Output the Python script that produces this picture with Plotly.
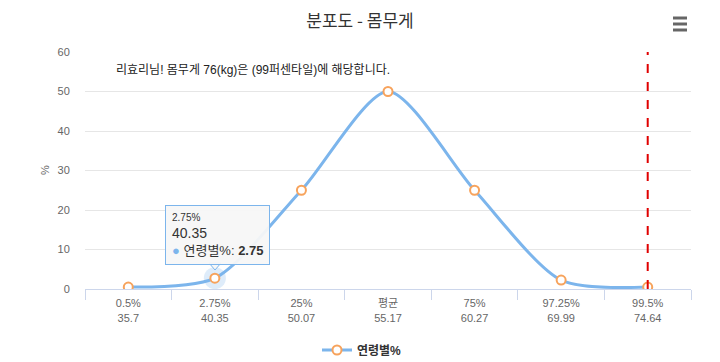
import plotly.graph_objects as go

percentiles = ["0.5%", "2.75%", "25%", "평균", "75%", "97.25%", "99.5%"]
weights = ["35.7", "40.35", "50.07", "55.17", "60.27", "69.99", "74.64"]
values = [0.5, 2.75, 25, 50, 25, 2.25, 0.5]
series_name = "연령별%"
user_category = "99.5%"
hover_index = 1
note_text = "리효리님! 몸무게 76(kg)은 (99퍼센타일)에 해당합니다."
title_text = "분포도 - 몸무게"
y_title = "%"

FONT = "Liberation Sans, Arial, Noto Sans CJK KR, sans-serif"
ticktext = [f"{p}<br>{w}" for p, w in zip(percentiles, weights)]

# page has an 8px body margin; figure is sized to fill the rest of the window
OFF = 8
W, H = 720 - OFF, 362 - OFF
# plot area in page pixels: x 85..691, y 52..289
PL, PR, PT, PB = 85, 691, 52, 289
L, R, T, B = PL - OFF, W - (PR - OFF), PT - OFF, H - (PB - OFF)
PW, PH = PR - PL, PB - PT


def px(x):
    return (x - PL) / PW


def py(y):
    return (PB - y) / PH


fig = go.Figure()
# hover halo
fig.add_trace(go.Scatter(
    x=[percentiles[hover_index]], y=[values[hover_index]], mode="markers",
    marker=dict(size=22, color="rgba(124,181,236,0.25)", line=dict(width=0)),
    showlegend=False, hoverinfo="skip"))
fig.add_trace(go.Scatter(
    x=percentiles, y=values, mode="lines+markers", name=series_name,
    line=dict(color="#7cb5ec", width=3, shape="spline", smoothing=0.75),
    marker=dict(size=9, color="white", line=dict(color="#f7a35c", width=2)),
))

# red dashed vertical line
fig.add_shape(type="line", xref="x", yref="paper", x0=user_category, x1=user_category,
              y0=0, y1=1, line=dict(color="#e00000", width=2, dash="dash"))

# hamburger menu icon
for yy in [18, 24, 30]:
    fig.add_shape(type="line", xref="paper", yref="paper",
                  x0=px(673), x1=px(687), y0=py(yy), y1=py(yy),
                  line=dict(color="#666666", width=3))

# y-axis title
fig.add_annotation(xref="paper", yref="paper", x=px(45), y=py(170),
                   xanchor="center", yanchor="middle", showarrow=False, textangle=-90,
                   text=y_title, font=dict(family=FONT, size=11, color="#666"))

# note text
fig.add_annotation(xref="paper", yref="paper", x=px(114), y=py(70),
                   xanchor="left", yanchor="middle", showarrow=False,
                   text=note_text, font=dict(family=FONT, size=12, color="#222"))

# tooltip pointer
fig.add_shape(type="path", xref="paper", yref="paper",
              path=f"M {px(209)} {py(263)} L {px(215)} {py(270)} L {px(221)} {py(263)} Z",
              fillcolor="rgba(247,247,247,1)", line=dict(color="#7cb5ec", width=1))
# tooltip
tip = ("<span style='font-size:10px'>" + percentiles[hover_index] + "</span><br>"
       "<span style='font-size:14px'>" + weights[hover_index] + "</span><br>"
       "<span style='color:#7cb5ec'>●</span> " + series_name + ": <b>" + str(values[hover_index]) + "</b>")
fig.add_annotation(xref="paper", yref="paper", x=px(165), y=py(205),
                   xanchor="left", yanchor="top", showarrow=False, align="left",
                   text=tip, font=dict(family=FONT, size=13, color="#333"),
                   bgcolor="rgba(247,247,247,0.95)", bordercolor="#7cb5ec", borderwidth=1,
                   borderpad=6)

fig.update_layout(
    width=W, height=H,
    margin=dict(l=L, r=R, t=T, b=B, autoexpand=False),
    paper_bgcolor="white", plot_bgcolor="white",
    font=dict(family=FONT, size=11, color="#666"),
    title=dict(text=title_text, x=(360 - OFF) / W, xanchor="center", xref="container",
               y=1 - (21 - OFF) / H, yanchor="middle", yref="container",
               font=dict(family="Noto Sans CJK KR, sans-serif", size=17, color="#333")),
    showlegend=True,
    legend=dict(orientation="h", xref="container", x=(362 - OFF) / W, xanchor="center",
                y=py(350), yanchor="middle",
                font=dict(family=FONT, size=12, color="#333", weight="bold")),
    xaxis=dict(type="category", categoryorder="array", categoryarray=percentiles,
               tickvals=percentiles, ticktext=ticktext, range=[-0.5, 6.5],
               showgrid=False, showline=True, linecolor="#ccd6eb", linewidth=1,
               ticks="outside", tickson="boundaries", ticklen=10, tickcolor="#ccd6eb",
               ticklabelstandoff=4,
               tickfont=dict(size=11, color="#666"), fixedrange=True, automargin=False),
    yaxis=dict(range=[0, 60], dtick=10, showgrid=True, gridcolor="#e6e6e6",
               zeroline=False, showline=False, ticks="outside", ticklen=12,
               tickcolor="rgba(0,0,0,0)", automargin=False,
               tickfont=dict(size=11, color="#666")),
)

fig.write_html("out.html")
